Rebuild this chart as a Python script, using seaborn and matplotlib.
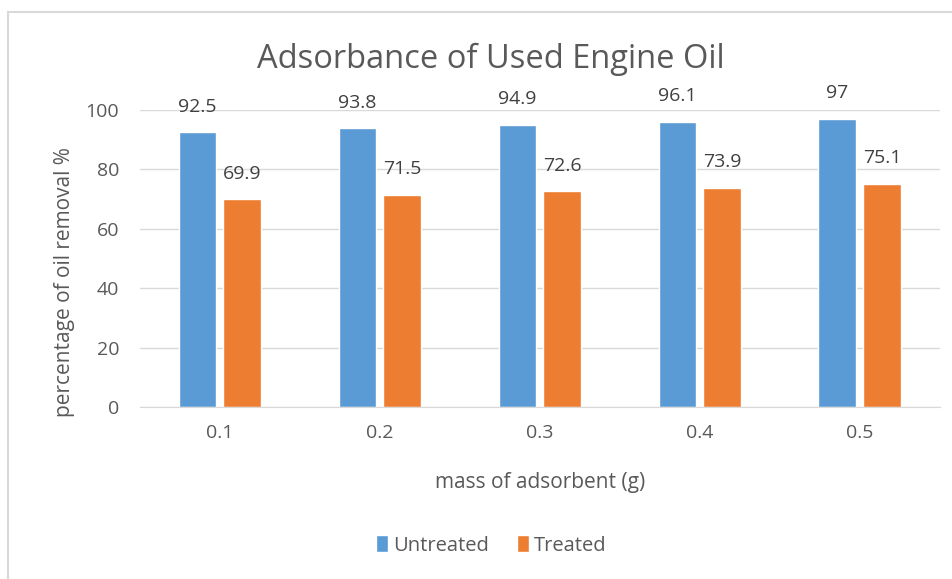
import pandas as pd
import matplotlib.pyplot as plt
import seaborn as sns
from matplotlib.patches import Rectangle, Patch

# data
mass = ['0.1', '0.2', '0.3', '0.4', '0.5']
untreated = [92.5, 93.8, 94.9, 96.1, 97]
treated = [69.9, 71.5, 72.6, 73.9, 75.1]
series = ['Untreated', 'Treated']
colors = ['#5B9BD5', '#ED7D31']

df = pd.DataFrame({
    'mass': mass * 2,
    'removal': untreated + treated,
    'sample': [series[0]] * len(mass) + [series[1]] * len(mass),
})

sns.set_style('white')
plt.rcParams['font.family'] = ['Open Sans', 'DejaVu Sans']
txt = '#595959'

fig = plt.figure(figsize=(9.52, 5.79), dpi=100)
ax = fig.add_axes([0.147, 0.297, 0.840, 0.513])

sns.barplot(data=df, x='mass', y='removal', hue='sample', hue_order=series,
            palette=colors, width=0.56, gap=0.16, saturation=1, ax=ax, legend=False)

for cont in ax.containers:
    ax.bar_label(cont, labels=[f'{v:g}' for v in cont.datavalues], padding=12,
                 fontsize=14, color='#404040')

ax.set_ylim(0, 100)
ax.set_yticks(range(0, 101, 20))
ax.yaxis.grid(True, color='#D9D9D9', linewidth=1)
ax.set_axisbelow(True)
for s in ['left', 'right', 'top']:
    ax.spines[s].set_visible(False)
ax.spines['bottom'].set_color('#D9D9D9')
ax.tick_params(axis='y', length=0, pad=15, labelsize=14, labelcolor=txt)
ax.tick_params(axis='x', length=0, pad=12, labelsize=14, labelcolor=txt)
ax.set_xlabel('mass of adsorbent (g)', fontsize=15, color=txt, labelpad=22)
ax.set_ylabel('')

fig.text(65 / 952, 1 - 282 / 579, 'percentage of oil removal %', rotation=90,
         ha='center', va='center', fontsize=15, color=txt)

fig.text(0.516, 0.898, 'Adsorbance of Used Engine Oil', ha='center', va='center',
         fontsize=23.5, color=txt)

handles = [Patch(facecolor=c, label=l) for c, l in zip(colors, series)]
fig.legend(handles=handles, loc='center', bbox_to_anchor=(0.516, 0.058), ncol=2,
           frameon=False, fontsize=14.5, labelcolor=txt, handlelength=0.6,
           handleheight=0.9, handletextpad=0.25, columnspacing=1.4)

# outer chart frame
fig.patches.append(Rectangle((8 / 952, -0.05), 1.0, 1 - 12 / 579 + 0.05,
                             transform=fig.transFigure, fill=False,
                             edgecolor='#D9D9D9', linewidth=1.5))

fig.savefig('out.png', dpi=100)
